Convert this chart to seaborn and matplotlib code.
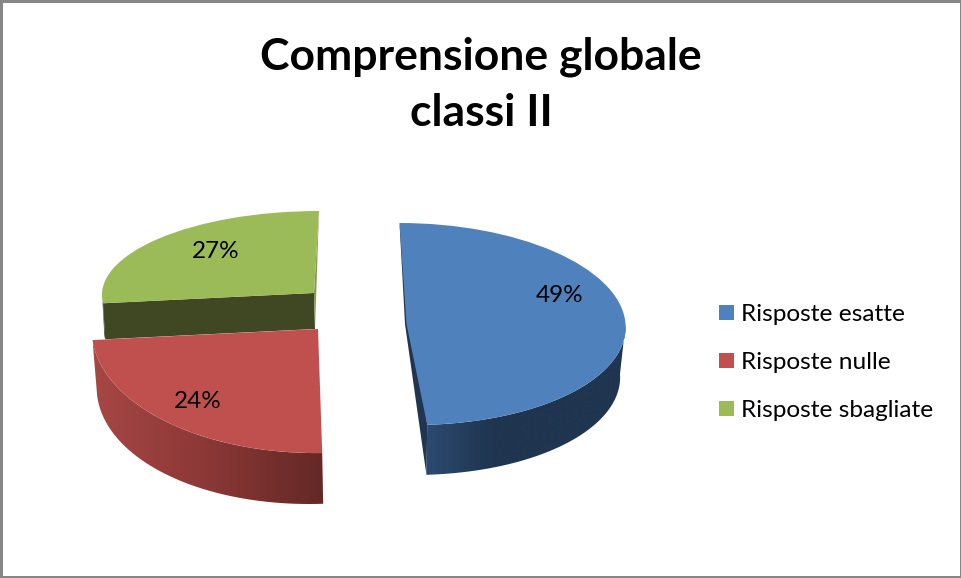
import numpy as np
import matplotlib
matplotlib.use("Agg")
import matplotlib.pyplot as plt
from matplotlib.patches import Polygon
from matplotlib.transforms import Affine2D
import seaborn as sns

categories = ["Risposte esatte", "Risposte nulle", "Risposte sbagliate"]
shares = [49, 24, 27]
title_text = "Comprensione globale\nclassi II"

sns.set_theme(style="white")
plt.rcParams["font.family"] = ["Lato", "DejaVu Sans"]

palette = sns.color_palette(["#4f81bd", "#bf504d", "#9bbb59"])
side_ramps = [["#2c4a70", "#1f3550", "#1f3550", "#1f3550"],
              ["#a64745", "#8a3836", "#642826"],
              ["#3f4823", "#3f4823"]]

# Projection of the unit pie onto the canvas for each slice: (Rx, shear_x, cx, shear_y, Ry, cy)
top_proj = [(219, -7, 406.5, 0, 101, 324),
            (226, 10, 318, 4.5, 124, 329),
            (212, 5, 314, 0, 82, 293)]
bot_proj = [(214, -7, 406, 0, 101, 374),
            (225, 13, 322, 0, 124, 380),
            (211, 4, 315, 0, 82, 329)]
label_pos = [(560, 295), (198, 402), (216, 252)]


def rim(p, deg):
    t = np.radians(deg)
    u, v = np.cos(t), np.sin(t)
    return np.column_stack([p[0] * u + p[1] * v + p[2], p[3] * u - p[4] * v + p[5]])


def affine(p):
    return Affine2D(np.array([[p[0], p[1], p[2]], [p[3], -p[4], p[5]], [0, 0, 1]]))


fig = plt.figure(figsize=(9.62, 5.78), dpi=100, facecolor="white")
ax = fig.add_axes([0, 0, 1, 1])

wedges, _ = ax.pie(shares, startangle=90, counterclock=False, radius=1,
                   colors=palette, wedgeprops={"linewidth": 0})
ax.set_aspect("auto")
ax.set_xlim(0, 962)
ax.set_ylim(578, 0)

for i, w in enumerate(wedges):
    top, bot = top_proj[i], bot_proj[i]
    base = 1 + 2 * (2 - i)
    w.set_transform(affine(top) + ax.transData)
    w.set_zorder(base + 1)

    lo, hi = max(w.theta1, -180), min(w.theta2, 0)
    if hi > lo:
        arc = np.linspace(lo, hi, 120)
        pts = np.vstack([rim(top, arc), rim(bot, arc)[::-1]])
        poly = Polygon(pts, closed=True, transform=ax.transData, fc="none", ec="none")
        ax.add_patch(poly)
        cmap = matplotlib.colors.LinearSegmentedColormap.from_list("s", side_ramps[i])
        x0, x1 = pts[:, 0].min(), pts[:, 0].max()
        im = ax.imshow(np.linspace(0, 1, 256)[None, :], cmap=cmap, aspect="auto",
                       extent=(x0, x1, pts[:, 1].max(), pts[:, 1].min()), zorder=base)
        im.set_clip_path(poly)

    if i == 0:   # cut face on the left of the blue slice; its top edge is nearly straight
        up, down = rim(top, [w.theta2]), rim(top, [w.theta1])
        apex = np.array([[top[2], top[5]]])
        face = np.vstack([up, apex - [1.5, 0], rim(bot, [w.theta1]), down])
        ax.add_patch(Polygon(face, fc="#1f3550", ec="none", zorder=base))
        region = np.vstack([up, apex + [3.5, 0], down, down + [300, 0], up + [300, 0]])
        clip = Polygon(region, fc="none", ec="none", transform=ax.transData)
        ax.add_patch(clip)
        w.set_clip_path(clip)
    if i == 2:   # radial faces of the green slice
        apex_t = np.array([[top[2], top[5]]])
        apex_b = np.array([[bot[2], bot[5]]])
        face1 = np.vstack([apex_t, rim(top, [w.theta2]), rim(bot, [w.theta2]), apex_b])
        ax.add_patch(Polygon(face1, fc=side_ramps[2][0], ec="none", zorder=base))
        face2 = np.vstack([rim(top, [w.theta1]), apex_t, apex_b])
        ax.add_patch(Polygon(face2, fc="#7f9a48", ec="none", zorder=base))

ax.set_xlim(0, 962)
ax.set_ylim(578, 0)
ax.set_aspect("auto")

for share, (x, y) in zip(shares, label_pos):
    ax.text(x, y, f"{share}%", ha="center", va="center", fontsize=17.5,
            color="black", zorder=20)

fig.text(481, 578 - 85, title_text, transform=None, ha="center", va="center",
         fontsize=32, fontweight="bold", color="black", linespacing=1.5)

leg = ax.legend(wedges, categories, loc="upper left", bbox_to_anchor=(719 / 962, 1 - 304 / 578),
                frameon=False, fontsize=17.6, handlelength=0.62, handleheight=0.58,
                handletextpad=0.29, labelspacing=1.1, borderpad=0, borderaxespad=0)
for t in leg.get_texts():
    t.set_color("black")

ax.set_frame_on(True)
ax.set_xticks([])
ax.set_yticks([])
for side, lw in dict(top=6, left=6, right=4, bottom=4).items():
    ax.spines[side].set_visible(True)
    ax.spines[side].set_color("#868686")
    ax.spines[side].set_linewidth(lw * 0.72)
    ax.spines[side].set_zorder(30)

fig.savefig("out.png", dpi=100)
